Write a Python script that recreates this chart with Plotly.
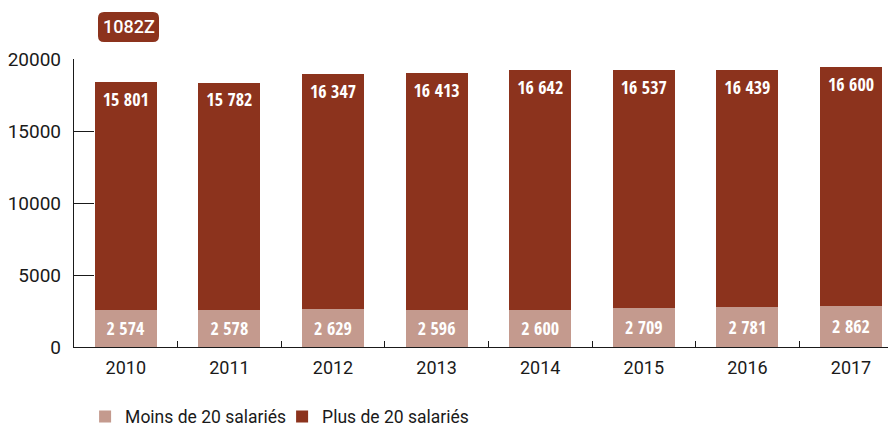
import plotly.graph_objects as go

years = ["2010", "2011", "2012", "2013", "2014", "2015", "2016", "2017"]
moins_20 = [2574, 2578, 2629, 2596, 2600, 2709, 2781, 2862]
plus_20 = [15801, 15782, 16347, 16413, 16642, 16537, 16439, 16600]
series_names = ["Moins de 20 salariés", "Plus de 20 salariés"]
y_ticks = [0, 5000, 10000, 15000, 20000]
badge_label = "1082Z"

LIGHT = "#C49A8E"
DARK = "#8C331D"
AXIS = "#1a1a1a"
COND = "Open Sans Condensed, DejaVu Sans Condensed, Liberation Sans Narrow, DejaVu Sans"

def fmt(v):
    return f"{v:,}".replace(",", " ")

# page body has an 8px margin: figure sized to fit the window
OFF = 8
W, H = 896 - OFF, 427 - OFF
ML, MR, MT = 74 - OFF, 0, 59 - OFF
MB = H - (346.7 - OFF)
plot_w = W - ML - MR
plot_h = H - MT - MB
cat_w = 103.6

label_font = dict(family=COND, size=18, color="white")
totals = [a + b for a, b in zip(moins_20, plus_20)]

fig = go.Figure()
fig.add_trace(go.Bar(
    x=years, y=moins_20, name=series_names[0], marker=dict(color=LIGHT, line=dict(width=0)),
    text=[fmt(v) for v in moins_20], textposition="inside", insidetextanchor="middle",
    textfont=label_font, constraintext="none", width=0.6, hoverinfo="skip",
))
fig.add_trace(go.Bar(
    x=years, y=plus_20, name=series_names[1], marker=dict(color=DARK, line=dict(width=0)),
    width=0.6, hoverinfo="skip",
))
fig.add_trace(go.Scatter(
    x=years, y=totals, mode="markers+text", text=[fmt(v) for v in plus_20],
    textposition="bottom center", textfont=label_font,
    marker=dict(size=15, opacity=0, color=DARK),
    showlegend=False, hoverinfo="skip", cliponaxis=False,
))

def px_to_paper_x(px):
    return (px - OFF - ML) / plot_w

def px_to_paper_y(py):
    return 1 + (MT - (py - OFF)) / plot_h

x0, x1 = px_to_paper_x(98), px_to_paper_x(159)
y0, y1 = px_to_paper_y(42), px_to_paper_y(12)
rx, ry = 6 / plot_w, 6 / plot_h
path = (f"M{x0+rx},{y0} L{x1-rx},{y0} Q{x1},{y0} {x1},{y0+ry} L{x1},{y1-ry} Q{x1},{y1} {x1-rx},{y1} "
        f"L{x0+rx},{y1} Q{x0},{y1} {x0},{y1-ry} L{x0},{y0+ry} Q{x0},{y0} {x0+rx},{y0} Z")
fig.add_shape(type="path", path=path, xref="paper", yref="paper",
              fillcolor=DARK, line=dict(width=0), layer="above")
fig.add_annotation(text=badge_label, xref="paper", yref="paper",
                   x=(x0 + x1) / 2, y=(y0 + y1) / 2, showarrow=False,
                   font=dict(family="Roboto", size=18, color="white", weight=500),
                   xanchor="center", yanchor="middle")

fig.update_layout(
    width=W, height=H,
    margin=dict(l=ML, r=MR, t=MT, b=MB, pad=0, autoexpand=False),
    barmode="stack",
    plot_bgcolor="white", paper_bgcolor="white",
    font=dict(family="Roboto", color=AXIS),
    showlegend=True,
    legend=dict(orientation="h", x=0.0135, xanchor="left", y=-0.242, yanchor="middle",
                font=dict(family="Roboto", size=17.5, color=AXIS),
                entrywidth=152, traceorder="normal", bgcolor="rgba(0,0,0,0)"),
    xaxis=dict(type="category", range=[-0.5, -0.5 + plot_w / cat_w], automargin=False,
               showline=True, linecolor=AXIS, linewidth=1.3,
               ticks="inside", tickson="boundaries", ticklen=6, tickcolor=AXIS, tickwidth=1.3,
               tickfont=dict(family="Roboto", size=18, color=AXIS),
               showgrid=False, zeroline=False, ticklabelstandoff=4),
    yaxis=dict(range=[0, 20000], tickvals=y_ticks, tickformat="d", automargin=False,
               showline=True, linecolor=AXIS, linewidth=1.3,
               ticks="inside", ticklen=20, tickcolor=AXIS, tickwidth=1.3,
               tickfont=dict(family="Roboto", size=19, color=AXIS),
               showgrid=False, zeroline=False, ticklabelstandoff=8),
)

fig.write_html("out.html")
